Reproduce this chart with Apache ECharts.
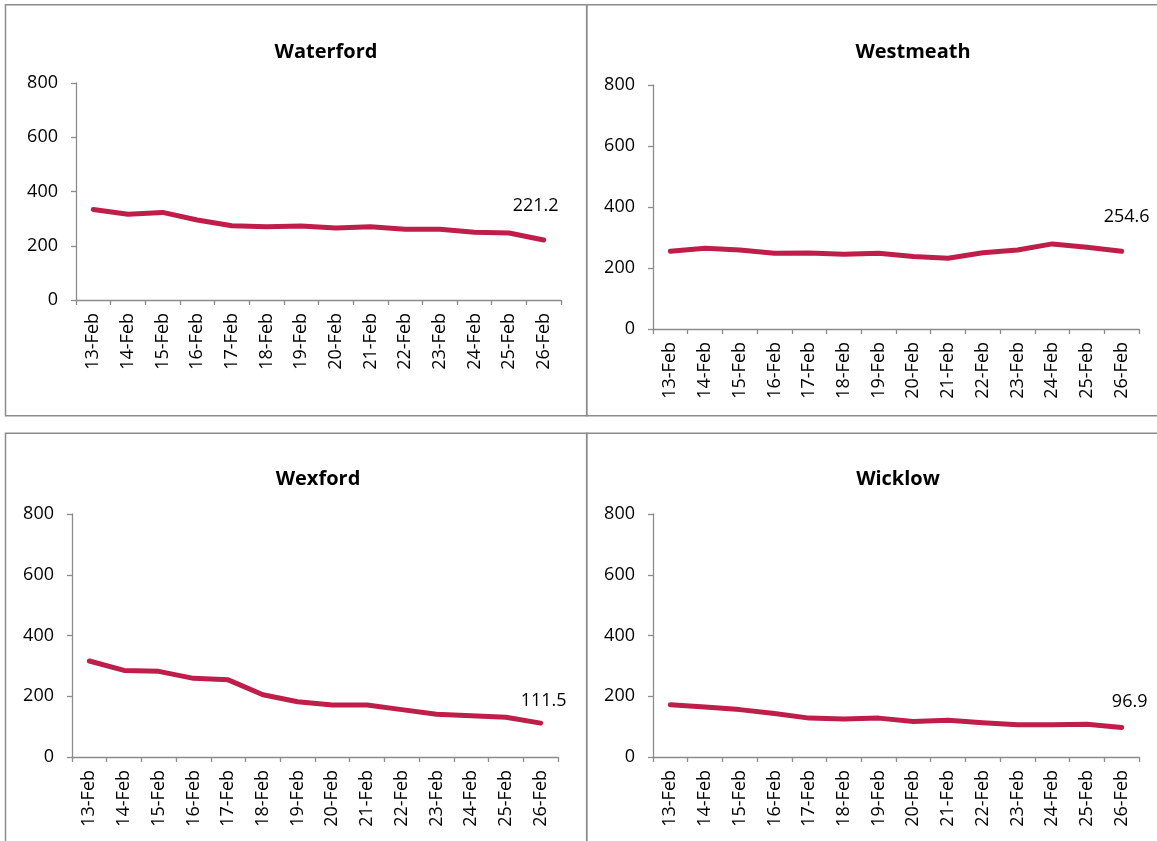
<!DOCTYPE html>
<html>
<head>
<meta charset="utf-8">
<script src="https://cdn.jsdelivr.net/npm/echarts@6/dist/echarts.min.js"></script>
<style>
html,body{margin:0;padding:0;background:#fff;}
#c{width:1157px;height:841px;}
</style>
</head>
<body>
<div id="c"></div>
<script>
const categories = ['13-Feb','14-Feb','15-Feb','16-Feb','17-Feb','18-Feb','19-Feb','20-Feb','21-Feb','22-Feb','23-Feb','24-Feb','25-Feb','26-Feb'];
const yTicks = [0, 200, 400, 600, 800];
const titles = ['Waterford', 'Westmeath', 'Wexford', 'Wicklow'];
const waterford = [334, 316, 323, 295, 274, 270, 273, 265, 270, 261, 261, 250, 247, 221.2];
const westmeath = [255, 265, 259, 248, 249, 245, 248, 238, 232, 250, 259, 279, 268, 254.6];
const wexford   = [316, 285, 282, 259, 254, 205, 182, 171, 171, 156, 141, 136, 131, 111.5];
const wicklow   = [172, 165, 156, 143, 128, 125, 128, 117, 121, 113, 106, 106, 108, 96.9];
const seriesData = [waterford, westmeath, wexford, wicklow];

const FONT = 'Open Sans';
const LINE = '#BE1E49';
const AXIS = '#8C8C8C';

const grids = [
  {left: 76, top: 83, width: 485, height: 217},
  {left: 653, top: 85, width: 486, height: 244},
  {left: 72, top: 514, width: 486, height: 243},
  {left: 653, top: 514, width: 486, height: 243}
];
const titlePos = [[326, 52], [913, 52], [318, 479], [898, 479]];
const lastLabelOffset = [[-8, -34], [5, -34], [3, -22], [8, -26]];

const chart = echarts.init(document.getElementById('c'), null, {renderer: 'canvas'});

const xAxes = [], yAxes = [], series = [], graphics = [];
grids.forEach((g, i) => {
  xAxes.push({
    type: 'category', gridIndex: i, data: categories, boundaryGap: true,
    axisLine: {lineStyle: {color: AXIS, width: 1.3}},
    axisTick: {show: true, length: 5, lineStyle: {color: AXIS, width: 1.3}},
    axisLabel: {rotate: 90, margin: 13, color: '#000', fontFamily: FONT, fontSize: 18, interval: 0},
    splitLine: {show: false}
  });
  yAxes.push({
    type: 'value', gridIndex: i, min: yTicks[0], max: yTicks[yTicks.length - 1], interval: 200,
    axisLine: {show: true, lineStyle: {color: AXIS, width: 1.3}},
    axisTick: {show: true, length: 5, lineStyle: {color: AXIS, width: 1.3}},
    axisLabel: {margin: 18, color: '#000', fontFamily: FONT, fontSize: 18},
    splitLine: {show: false}
  });
  const n = seriesData[i].length;
  const d = seriesData[i].map((v, k) => {
    if (k === n - 1) {
      return {value: v, symbol: 'circle', symbolSize: 3,
        label: {show: true, position: 'inside', offset: lastLabelOffset[i],
          formatter: p => Number(p.value).toFixed(1), color: '#000', fontFamily: FONT, fontSize: 18}};
    }
    return {value: v, symbol: 'none'};
  });
  series.push({
    type: 'line', xAxisIndex: i, yAxisIndex: i, data: d,
    symbol: 'circle', symbolSize: 3, showSymbol: true, smooth: false,
    lineStyle: {color: LINE, width: 5, cap: 'round', join: 'round'},
    itemStyle: {color: LINE},
    label: {show: false},
    animation: false
  });
  graphics.push({
    type: 'text', x: titlePos[i][0], y: titlePos[i][1],
    style: {text: titles[i], fill: '#000', font: 'bold 20px "' + FONT + '"', textAlign: 'center', textVerticalAlign: 'middle'}
  });
});

// panel frames
const frame = {stroke: '#8C8C8C', lineWidth: 1.5, fill: 'none'};
graphics.push({type: 'rect', shape: {x: 5.5, y: 4.7, width: 581.2, height: 411}, style: frame, silent: true});
graphics.push({type: 'rect', shape: {x: 586.7, y: 4.7, width: 600, height: 411}, style: frame, silent: true});
graphics.push({type: 'rect', shape: {x: 5.5, y: 433.3, width: 581.2, height: 450}, style: frame, silent: true});
graphics.push({type: 'rect', shape: {x: 586.7, y: 433.3, width: 600, height: 450}, style: frame, silent: true});

chart.setOption({
  animation: false,
  backgroundColor: '#fff',
  grid: grids,
  xAxis: xAxes,
  yAxis: yAxes,
  series: series,
  graphic: graphics
});
</script>
</body>
</html>
